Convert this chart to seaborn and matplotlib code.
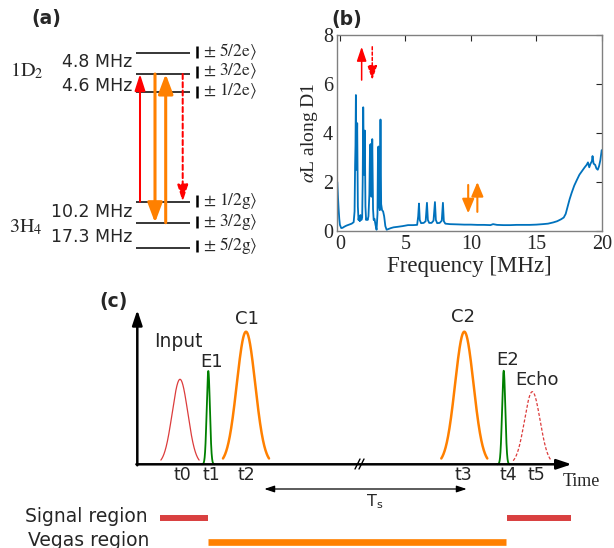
import numpy as np
import pandas as pd
import matplotlib.pyplot as plt
import seaborn as sns

sns.set_style('white')
plt.rcParams['font.family'] = ['DejaVu Sans']
plt.rcParams['mathtext.fontset'] = 'stix'

# (b) absorption spectrum
freq = [-0.2, -0.15, -0.1, -0.05, 0.0, 0.1, 0.2, 0.35, 0.5, 0.7,
        0.9, 1.05, 1.12, 1.16, 1.19, 1.22, 1.27, 1.32, 1.37, 1.42,
        1.47, 1.52, 1.57, 1.64, 1.7, 1.74, 1.78, 1.84, 1.9, 1.95,
        2.0, 2.06, 2.12, 2.18, 2.25, 2.3, 2.35, 2.41, 2.47, 2.53,
        2.58, 2.64, 2.72, 2.8, 2.87, 2.91, 2.95, 3.0, 3.05, 3.1,
        3.15, 3.22, 3.3, 3.38, 3.47, 3.57, 3.7, 3.9, 4.1, 4.4,
        4.8, 5.2, 5.6, 5.9, 5.98, 6.04, 6.1, 6.2, 6.4, 6.55,
        6.65, 6.72, 6.82, 7.0, 7.15, 7.26, 7.33, 7.43, 7.62, 7.78,
        7.87, 7.94, 8.05, 8.4, 9.0, 9.5, 10.0, 10.5, 11.0, 11.5,
        11.7, 12.0, 12.5, 13.0, 13.5, 14.0, 14.5, 15.0, 15.5, 15.9,
        16.3, 16.6, 16.9, 17.1, 17.25, 17.4, 17.55, 17.7, 17.9, 18.1,
        18.3, 18.5, 18.7, 18.85, 18.95, 19.05, 19.15, 19.25, 19.3, 19.38,
        19.5, 19.6, 19.7, 19.8, 19.9, 20.0]
alpha_L = [2.0, 1.4, 0.9, 0.5, 0.25, 0.12, 0.13, 0.18, 0.22, 0.26,
           0.3, 0.36, 0.8, 2.7, 3.5, 5.55, 2.5, 4.4, 1.0, 0.45,
           0.6, 0.4, 0.65, 0.45, 0.55, 2.0, 5.05, 2.3, 4.1, 1.0,
           0.45, 0.5, 0.45, 0.6, 1.5, 3.5, 3.55, 1.4, 3.75, 0.9,
           0.45, 0.5, 0.25, 0.05, 0.7, 3.4, 3.45, 1.0, 0.85, 4.55,
           1.1, 0.85, 0.8, 0.6, 0.2, 0.05, 0.08, 0.12, 0.15, 0.17,
           0.2, 0.24, 0.24, 0.25, 0.6, 1.12, 0.45, 0.32, 0.33, 0.4,
           1.15, 0.45, 0.33, 0.33, 0.42, 1.18, 0.45, 0.32, 0.33, 0.42,
           1.15, 0.4, 0.3, 0.28, 0.27, 0.26, 0.26, 0.25, 0.25, 0.24,
           0.28, 0.25, 0.24, 0.24, 0.25, 0.25, 0.25, 0.26, 0.28, 0.3,
           0.35, 0.4, 0.48, 0.55, 0.7, 1.0, 1.3, 1.55, 1.85, 2.08,
           2.3, 2.45, 2.6, 2.7, 2.8, 2.6, 2.75, 2.85, 3.06, 2.75,
           2.7, 2.55, 2.5, 2.65, 2.9, 3.3]

# (a) level scheme (diagram rows, px from top)
excited_states = ['5/2e', '3/2e', '1/2e']
excited_y = [53.3, 74, 92.3]
ground_states = ['1/2g', '3/2g', '5/2g']
ground_y = [201.7, 222.7, 248.3]
state_label_y = [51.7, 71.5, 91.7, 201, 221.7, 246]
split_labels = ['4.8 MHz', '4.6 MHz', '10.2 MHz', '17.3 MHz']
split_y = [61.7, 86, 212.3, 236.7]

# (c) pulse sequence
pulse_names = ['Input', 'E1', 'C1', 'C2', 'E2', 'Echo']
pulse_ticks = ['t0', 't1', 't2', 't3', 't4', 't5']
pulse_t = [180, 208.3, 246, 464.3, 503.7, 532.3]
pulse_amp = [85, 93.3, 132.6, 132.6, 93.6, 72.6]
pulse_sig = [7.8, 1.6, 9.2, 9.2, 1.6, 7.8]
signal_spans = [(160, 207.8), (507, 570.6)]
vegas_spans = [(207.8, 506)]

RED = '#FF0000'
ORANGE = '#FF8000'
BLUE = '#0072BD'
GRAY = '#262626'

fig = plt.figure(figsize=(6.14, 5.48), dpi=100)
cv = fig.add_axes([0, 0, 1, 1])
cv.set_xlim(0, 614)
cv.set_ylim(548, 0)
cv.axis('off')


def arrow(ax, x0, y0, x1, y1, color, lw, hl, hw, ls='-'):
    ax.annotate('', xy=(x1, y1), xytext=(x0, y0),
                arrowprops=dict(arrowstyle=f'-|>,head_length={hl},head_width={hw}',
                                color=color, lw=lw, linestyle=ls, mutation_scale=1,
                                shrinkA=0, shrinkB=0))


# ---- panel (a)
cv.text(46.7, 18.3, '(a)', fontsize=13.5, fontweight='bold', ha='center', va='center')
cv.hlines(excited_y, 136, 189.5, color='black', lw=1.1)
cv.hlines(ground_y, 136, 190, color='black', lw=1.1)
for st, y in zip(excited_states + ground_states, state_label_y):
    cv.vlines(196.7, y - 6, y + 6, color='black', lw=1.8)
    cv.text(203, y, r'$\pm\ \mathrm{' + st + r'}\rangle$', fontsize=12.5,
            ha='left', va='center')
for lab, y in zip(split_labels, split_y):
    cv.text(132, y, lab, fontsize=12.5, ha='right', va='center')
cv.text(10, 76.7, r'$\mathrm{1D_2}$', fontsize=14.5, ha='left', va='baseline')
cv.text(9, 232.3, r'$\mathrm{3H_4}$', fontsize=14.5, ha='left', va='baseline')

arrow(cv, 140, ground_y[0], 140, excited_y[1], RED, 1.45, 10, 3.2)
arrow(cv, 155, excited_y[1], 155, ground_y[1], ORANGE, 2.2, 12, 4.5)
arrow(cv, 165.7, ground_y[1], 165.7, excited_y[1], ORANGE, 2.2, 12, 4.5)
arrow(cv, 182.7, excited_y[1], 182.7, ground_y[0], RED, 1.45, 10, 3.2, ls=(0, (2.5, 1.6)))

# ---- panel (b)
cv.text(346.7, 20, '(b)', fontsize=13.5, fontweight='bold', ha='center', va='center')
axb = fig.add_axes([337.3 / 614, 1 - 231 / 548, 264.4 / 614, 196 / 548])
df = pd.DataFrame({'freq': freq, 'aL': alpha_L})
sns.lineplot(data=df, x='freq', y='aL', ax=axb, color=BLUE, lw=1.3)
axb.set_xlim(-0.2, 20)
axb.set_ylim(0, 8)
axb.set_xticks([0, 5, 10, 15, 20])
axb.set_yticks([0, 2, 4, 6, 8])
axb.tick_params(direction='in', top=True, right=True, length=4, width=0.8,
                colors=GRAY, labelsize=14.5, pad=3)
for sp in axb.spines.values():
    sp.set_visible(True)
    sp.set_color('#808080')
    sp.set_linewidth(1.0)
for t in axb.get_xticklabels() + axb.get_yticklabels():
    t.set_fontfamily('Liberation Serif')
axb.set_xlabel('Frequency [MHz]', fontsize=16.5, family='Liberation Serif', color=GRAY, labelpad=1)
axb.set_ylabel(r'$\alpha$L along D1', fontsize=14, family='Liberation Serif', color=GRAY, labelpad=2)
arrow(axb, 1.66, 6.16, 1.66, 7.52, RED, 1.1, 8.6, 2.9)
arrow(axb, 2.47, 7.52, 2.47, 6.16, RED, 1.1, 8.6, 2.9, ls=(0, (2, 1.5)))
arrow(axb, 9.8, 1.88, 9.8, 0.72, ORANGE, 1.5, 8.6, 3.6)
arrow(axb, 10.5, 0.78, 10.5, 2.0, ORANGE, 1.5, 8.6, 3.6)

# ---- panel (c)
base = 464.3
cv.text(113.5, 301.5, '(c)', fontsize=13.5, fontweight='bold', ha='center', va='center')
arrow(cv, 137.3, base + 1, 137.3, 310, 'black', 1.8, 9, 3)
arrow(cv, 136.4, base, 571.7, base, 'black', 1.8, 9, 3)
cv.plot([355, 360], [469, 459], color='black', lw=1)
cv.plot([359, 364], [469, 459], color='black', lw=1)

styles = [('#DC3C3C', 0.9, '-', 2.45), ('green', 1.3, '-', 4), (ORANGE, 1.8, '-', 2.5),
          (ORANGE, 1.8, '-', 2.5), ('green', 1.3, '-', 4), ('#DC3C3C', 0.9, (0, (2.5, 1.5)), 2.45)]
for c, a, s, (col, lw, ls, k) in zip(pulse_t, pulse_amp, pulse_sig, styles):
    x = np.linspace(c - k * s, c + k * s, 300)
    y = base - a * np.exp(-(x - c) ** 2 / (2 * s ** 2))
    cv.plot(x, y, color=col, lw=lw, linestyle=ls)

name_pos = [(178.5, 341.7), (211.3, 361.7), (247, 319), (463.3, 316.7), (507.3, 360), (537, 380)]
for name, (x, y) in zip(pulse_names, name_pos):
    cv.text(x, y, name, fontsize=13.5 if name == 'Input' else 13, ha='center', va='center')
tick_x = [182.3, 211, 246.7, 463.3, 508.7, 536.7]
for lab, x in zip(pulse_ticks, tick_x):
    cv.text(x, 475.5, lab, fontsize=12.5, ha='center', va='center')
cv.text(563, 481.7, 'Time', fontsize=13, family='Liberation Serif', ha='left', va='center')

cv.annotate('', xy=(264.3, 489), xytext=(466.7, 489),
            arrowprops=dict(arrowstyle='<|-|>,head_length=6,head_width=2', color='black',
                            lw=0.9, mutation_scale=1, shrinkA=0, shrinkB=0))
cv.text(374.5, 501.7, r'T$_\mathregular{s}$', fontsize=11.5, ha='center', va='center')

cv.text(148, 517, 'Signal region', fontsize=13.5, ha='right', va='center')
cv.text(149, 540, 'Vegas region', fontsize=13.5, ha='right', va='center')
for x0, x1 in signal_spans:
    cv.hlines(518, x0, x1, color='#D94040', lw=4.3)
for x0, x1 in vegas_spans:
    cv.hlines(542, x0, x1, color=ORANGE, lw=4.8)

fig.savefig('out.png', dpi=100)
